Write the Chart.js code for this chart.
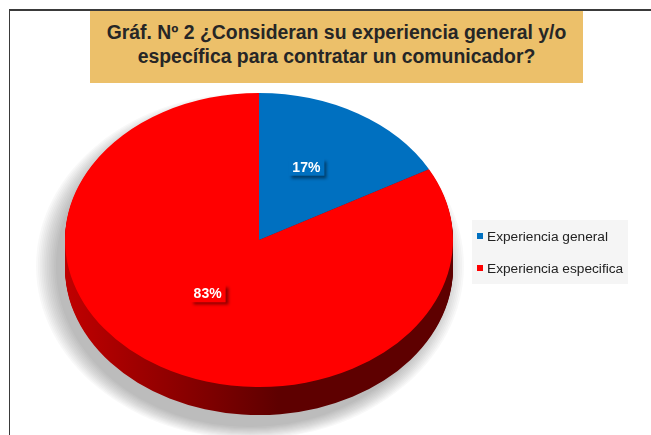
<!DOCTYPE html>
<html>
<head>
<meta charset="utf-8">
<script src="https://cdn.jsdelivr.net/npm/chart.js@4"></script>
<style>
  body { margin: 0; background: #fff; }
  #wrap { position: relative; width: 651px; height: 435px; overflow: hidden; }
  #frame { position: absolute; left: 9px; top: 9px; right: 0; bottom: 0;
           border-top: 2px solid #3a3a3a; border-left: 1px solid #3a3a3a; }
  #title { position: absolute; left: 90px; top: 11px; width: 493px; height: 72px;
           background: #ECC06A; color: #262626; text-align: center;
           font: bold 19.4px "Liberation Sans", Arial, sans-serif; line-height: 24px;
           padding-top: 9px; box-sizing: border-box; }
  canvas { position: absolute; left: 0; top: 0; }
</style>
</head>
<body>
<div id="wrap">
  <div id="frame"></div>
  <canvas id="myChart" width="651" height="435"></canvas>
  <div id="title">Gráf. Nº 2 ¿Consideran su experiencia general y/o<br>específica para contratar un comunicador?</div>
</div>
<script>
const categories = ['Experiencia general', 'Experiencia especifica'];
const percentages = [17, 83];
const sliceColors = ['#0070C0', '#FF0000'];
const sideColors = [['#00508a', '#003a66'], ['#c00000', '#5e0000']];

const tilt = 0.758;   // vertical squash of the pie
const depth = 28;     // thickness of the side wall
const pieY = 240;     // screen y of the pie centre

function sideFill(ctx, cx, r, i){
    let g = ctx.createLinearGradient(cx - r, 0, cx + r, 0);
    g.addColorStop(0, sideColors[i][0]);
    g.addColorStop(0.55, sideColors[i][1]);
    g.addColorStop(1, sideColors[i][1]);
    return g;
}

const pie3d = {
    id: 'pie3d',
    beforeDatasetsDraw(chart){
        const ctx = chart.ctx;
        const arcs = chart.getDatasetMeta(0).data;
        const cx = arcs[0].x, cy = arcs[0].y;
        const r = arcs[0].outerRadius;

        // soft grey shadow behind the pie, built from stacked faint ellipses
        ctx.save();
        ctx.fillStyle = 'rgba(0,0,0,0.028)';
        for(let k = 0; k < 12; k++){
            let grow = 20 - k * 1.8;
            ctx.beginPath();
            ctx.ellipse(cx - 9, pieY + depth / 2 + 12, r + grow, r * tilt + depth / 2 + grow * 0.6, 0, 0, Math.PI * 2);
            ctx.fill();
        }
        ctx.restore();

        // side walls, stacked from the bottom up
        for(let d = depth; d >= 1; d--){
            ctx.save();
            ctx.translate(cx, pieY + d);
            ctx.scale(1, tilt);
            ctx.translate(-cx, -cy);
            arcs.forEach((arc, i) => {
                ctx.beginPath();
                ctx.moveTo(cx, cy);
                ctx.arc(cx, cy, arc.outerRadius, arc.startAngle, arc.endAngle);
                ctx.closePath();
                ctx.fillStyle = sideFill(ctx, cx, arc.outerRadius, i);
                ctx.fill();
            });
            ctx.restore();
        }

        // squash the top face that the library draws next
        ctx.save();
        ctx.translate(cx, pieY);
        ctx.scale(1, tilt);
        ctx.translate(-cx, -cy);
    },
    afterDatasetsDraw(chart){
        const ctx = chart.ctx;
        ctx.restore();

        const arcs = chart.getDatasetMeta(0).data;
        ctx.font = 'bold 14px "Liberation Sans", Arial, sans-serif';
        ctx.textAlign = 'center';
        ctx.textBaseline = 'middle';
        arcs.forEach((arc, i) => {
            let mid = (arc.startAngle + arc.endAngle) / 2;
            let r = arc.outerRadius * 0.5;
            let px = arc.x + Math.cos(mid) * r - 2;
            let py = pieY + Math.sin(mid) * r * tilt - 10;
            let text = percentages[i] + '%';
            let w = ctx.measureText(text).width + 8;
            let h = 18;
            ctx.save();
            ctx.shadowColor = 'rgba(0,0,0,0.45)';
            ctx.shadowBlur = 3;
            ctx.shadowOffsetX = 3;
            ctx.shadowOffsetY = 3;
            ctx.fillStyle = sliceColors[i];
            ctx.fillRect(px - w / 2, py - h / 2, w, h);
            ctx.restore();
            ctx.fillStyle = '#ffffff';
            ctx.fillText(text, px, py + 1);
        });
    },
    afterDraw(chart){
        const ctx = chart.ctx;
        // legend
        ctx.fillStyle = '#f5f5f5';
        ctx.fillRect(472, 220, 156, 64);
        ctx.font = '13.7px "Liberation Sans", Arial, sans-serif';
        ctx.textAlign = 'left';
        ctx.textBaseline = 'middle';
        categories.forEach((name, i) => {
            let y = 236 + i * 32;
            ctx.fillStyle = sliceColors[i];
            ctx.fillRect(477, y - 3, 6, 6);
            ctx.fillStyle = '#222222';
            ctx.fillText(name, 487, y + 1);
        });
    }
};

const ctx = document.getElementById('myChart');

new Chart(ctx, {
    type: 'pie',
    data: {
        labels: categories,
        datasets: [{
            data: percentages,
            backgroundColor: sliceColors,
            borderWidth: 0,
            clip: false
        }]
    },
    options: {
        responsive: false,
        animation: false,
        layout: { padding: { left: 65, right: 198, top: 20, bottom: 27 } },
        plugins: {
            legend: { display: false },
            tooltip: { enabled: false }
        }
    },
    plugins: [pie3d]
});
</script>
</body>
</html>
